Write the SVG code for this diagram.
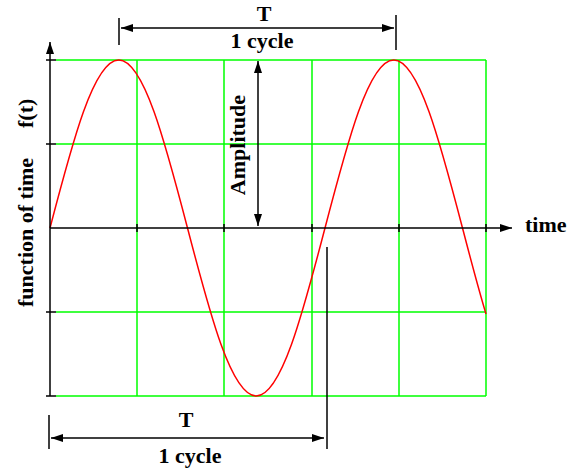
<svg xmlns="http://www.w3.org/2000/svg" width="577" height="468" viewBox="0 0 577 468">
<style>
.grid{stroke:#00ff00;stroke-width:1.5;fill:none}
.blk{stroke:#000;stroke-width:1.5;fill:none}
.wave{stroke:#ff0000;stroke-width:1.5;fill:none}
text{font-family:"Liberation Serif","Times New Roman",serif;font-weight:bold;font-size:22px;fill:#000}
</style>
<defs>
<marker id="ah" viewBox="0 0 12 8" markerWidth="12" markerHeight="8" refX="12" refY="4" orient="auto-start-reverse" markerUnits="userSpaceOnUse">
<path d="M0,0 L12,4 L0,8 z" fill="#000"/>
</marker>
</defs>
<rect width="577" height="468" fill="#fff"/>
<g id="grid" class="grid">
<path d="M56,60H486M56,144H486M56,312H486M56,396H486"/>
<path d="M137,60V396M224,60V396M312,60V396M399,60V396M486,60V396"/>
</g>
<g id="curve">
<path class="wave" d="M50,228 C72.42,141.94 93.87,60 118.75,60 C143.63,60 165.08,141.94 187.5,228 C209.92,314.06 231.37,396 256.25,396 C281.13,396 302.58,314.06 325,228 C347.42,141.94 368.87,60 393.75,60 C418.63,60 440.08,141.94 462.5,228 C470.33,258.07 478.17,288.11 486,313.95"/>
</g>
<g id="axes" class="blk">
<line x1="50" y1="396" x2="50" y2="42" marker-end="url(#ah)"/>
<line x1="50" y1="228" x2="512" y2="228" marker-end="url(#ah)"/>
<path d="M46,60H56M46,144H56M46,312H56M46,396H56"/>
<path d="M137,224V232M224,224V232M312,224V232M399,224V232M486,224V232"/>
</g>
<g id="connectors" class="blk">
<line x1="121" y1="28" x2="394" y2="28" marker-start="url(#ah)" marker-end="url(#ah)"/>
<line x1="119" y1="18" x2="119" y2="45"/>
<line x1="396" y1="15" x2="396" y2="50"/>
<line x1="258" y1="61" x2="258" y2="226" marker-start="url(#ah)" marker-end="url(#ah)"/>
<line x1="51" y1="438" x2="324" y2="438" marker-start="url(#ah)" marker-end="url(#ah)"/>
<line x1="49" y1="415" x2="49" y2="449"/>
<line x1="327" y1="247" x2="327" y2="449"/>
</g>
<g id="labels">
<text x="264" y="21" text-anchor="middle">T</text>
<text x="262" y="48" text-anchor="middle">1 cycle</text>
<text x="186" y="427" text-anchor="middle">T</text>
<text x="190" y="463" text-anchor="middle">1 cycle</text>
<text x="525" y="232">time</text>
<text transform="translate(245,145) rotate(-90)" text-anchor="middle">Amplitude</text>
<text transform="translate(33,307) rotate(-90)">function of time<tspan x="179">f(t)</tspan></text>
</g>
</svg>
